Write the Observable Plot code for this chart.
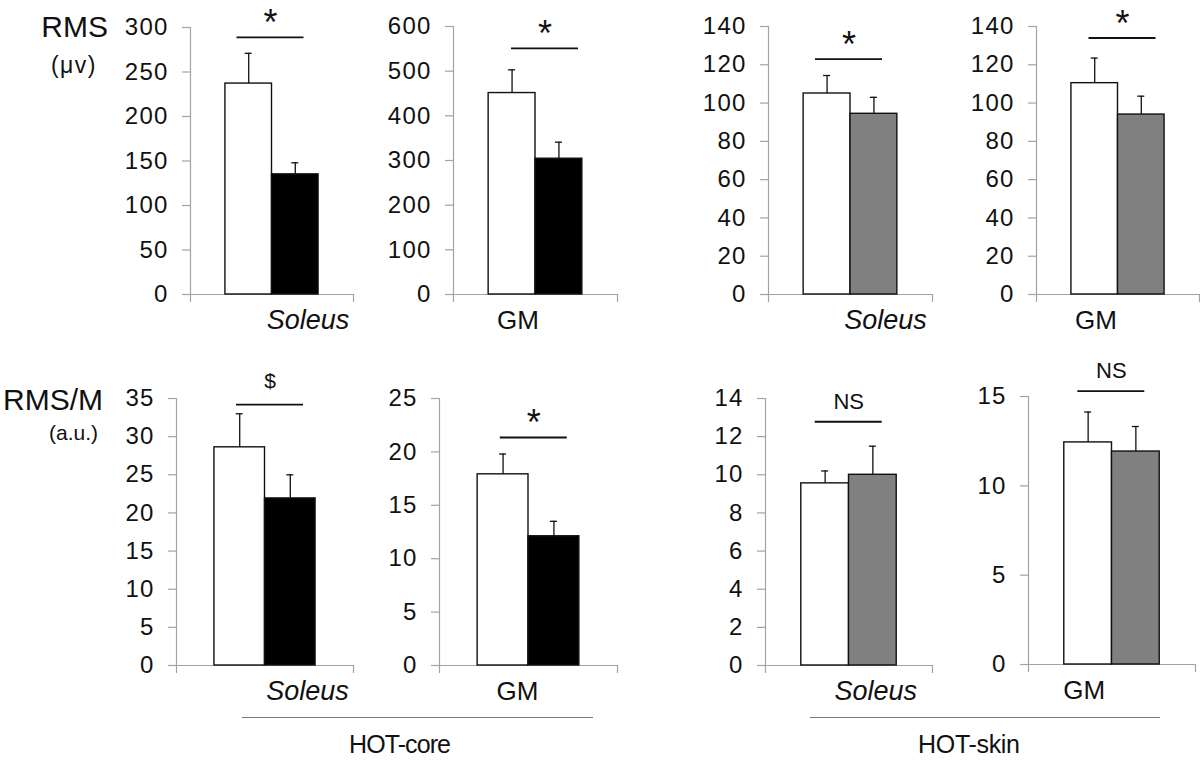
<!DOCTYPE html>
<html>
<head>
<meta charset="utf-8">
<script src="https://cdn.jsdelivr.net/npm/d3@7"></script>
<script src="https://cdn.jsdelivr.net/npm/@observablehq/plot@0.6"></script>
<style>
  html, body { margin: 0; padding: 0; background: #fff; overflow: hidden; }
  #root { position: relative; width: 1200px; height: 760px; background: #fff; }
  #root g[aria-label="y-axis tick label"] text { letter-spacing: 1.2px; }
</style>
</head>
<body>
<div id="root"></div>
<script>
// ---------------- DATA ----------------
const muscles   = ["Soleus", "GM", "Soleus", "GM"];
const protocols = ["HOT-core", "HOT-core", "HOT-skin", "HOT-skin"];
const series    = ["Control", "Hot"];

// RMS (µV)
const rmsControl     = [237, 451, 105, 110.4];
const rmsControlErr  = [34, 52, 9.4, 13.1];
const rmsHot         = [135, 304, 94.4, 94.0];
const rmsHotErr      = [13, 37, 8.6, 9.6];
const rmsSignif      = ["*", "*", "*", "*"];
const rmsSignifLevel = [289, 551, 123, 134];
const rmsTicks = [
  [0, 50, 100, 150, 200, 250, 300],
  [0, 100, 200, 300, 400, 500, 600],
  [0, 20, 40, 60, 80, 100, 120, 140],
  [0, 20, 40, 60, 80, 100, 120, 140]
];

// RMS/M (a.u.)
const rmsmControl     = [28.6, 17.9, 9.55, 12.43];
const rmsmControlErr  = [4.4, 1.9, 0.65, 1.7];
const rmsmHot         = [21.9, 12.1, 10.0, 11.92];
const rmsmHotErr      = [3.1, 1.4, 1.5, 1.4];
const rmsmSignif      = ["$", "*", "NS", "NS"];
const rmsmSignifLevel = [34.2, 21.35, 12.78, 15.3];
const rmsmTicks = [
  [0, 5, 10, 15, 20, 25, 30, 35],
  [0, 5, 10, 15, 20, 25],
  [0, 2, 4, 6, 8, 10, 12, 14],
  [0, 5, 10, 15]
];

const measureLabels = ["RMS", "RMS/M"];
const unitLabels    = ["(\u03bcv)", "(a.u.)"];
const protocolNames = ["HOT-core", "HOT-skin"];

// ---------------- STYLE / LAYOUT ----------------
const FONT = '"Liberation Sans", Arial, Helvetica, sans-serif';
const AXIS_GRAY = "#a3a3a3";
const INK = "#111";
const hotFill = {"HOT-core": "#000000", "HOT-skin": "#808080"};
const symbolStyle = {
  "*":  {fontSize: 36, dy: -2},
  "$":  {fontSize: 21, dy: -17},
  "NS": {fontSize: 22, dy: -13}
};

const layouts = {
  rms: [
    {ax: 190,  top: 27,  zero: 294, right: 353,  sigDx: -1.5, labelDx: 36},
    {ax: 453,  top: 26,  zero: 294, right: 617,  sigDx: 9.5,  labelDx: -17.5},
    {ax: 768,  top: 26,  zero: 294, right: 932,  sigDx: -1.5, labelDx: 35},
    {ax: 1036, top: 26,  zero: 294, right: 1199, sigDx: 4.5,  labelDx: -22}
  ],
  rmsm: [
    {ax: 176,  top: 398, zero: 665, right: 353,  sigDx: 5,    labelDx: 42.5},
    {ax: 439,  top: 398, zero: 665, right: 617,  sigDx: 5.3,  labelDx: -11},
    {ax: 765,  top: 398, zero: 665, right: 932,  sigDx: -0.3, labelDx: 26.7},
    {ax: 1028, top: 396, zero: 664, right: 1195, sigDx: -0.7, labelDx: -27.7}
  ]
};

const ML = 80, MR = 20, MT = 45, MB = 45, EXT = 8, LABEL_DY = 34;

const root = document.getElementById("root");

function panel(cfg, k, m) {
  const plotW = cfg.right - cfg.ax;
  const plotH = cfg.zero - cfg.top;
  const width = ML + plotW + MR;
  const height = MT + plotH + MB;
  const ticks = m.ticks[k];
  const ymax = ticks[ticks.length - 1];
  const ext = -EXT * ymax / plotH; // value just below zero for axis extension
  const bars = [
    {i: 0, series: series[0], value: m.control[k], err: m.controlErr[k], fill: "#ffffff"},
    {i: 1, series: series[1], value: m.hot[k], err: m.hotErr[k], fill: hotFill[protocols[k]]}
  ];
  const sym = m.signif[k];
  const ss = symbolStyle[sym];
  const step = plotW / 3.5;
  const capHalf = 3.5 / step;

  const svg = Plot.plot({
    width, height,
    marginLeft: ML, marginRight: MR, marginTop: MT, marginBottom: MB,
    x: {domain: [-0.75, 2.75], range: [ML, ML + plotW], axis: null},
    y: {domain: [0, ymax], range: [MT + plotH, MT], label: null},
    color: {type: "identity"},
    style: {
      position: "absolute",
      left: (cfg.ax - ML) + "px",
      top: (cfg.top - MT) + "px",
      background: "none",
      overflow: "visible",
      fontFamily: FONT,
      color: INK
    },
    marks: [
      // axis lines (Excel style)
      Plot.ruleX([-0.75], {y1: ext, y2: ymax, stroke: AXIS_GRAY, strokeWidth: 1.2}),
      Plot.ruleX([2.75], {y1: ext, y2: 0, stroke: AXIS_GRAY, strokeWidth: 1.2}),
      Plot.ruleY([0], {x1: -0.75, x2: 2.75, stroke: AXIS_GRAY, strokeWidth: 1.2}),
      Plot.axisY({
        ticks, tickSize: EXT, tickPadding: 14, label: null,
        tickFormat: d => String(d),
        stroke: AXIS_GRAY, fill: INK, fontSize: 24, strokeWidth: 1.2
      }),
      // bars
      Plot.rectY(bars, {
        x1: "i", x2: d => d.i + 1, y: "value",
        fill: "fill", stroke: INK, strokeWidth: 1.4
      }),
      // error bars
      Plot.ruleX(bars, {x: d => d.i + 0.5, y1: "value", y2: d => d.value + d.err, stroke: INK, strokeWidth: 1.3}),
      Plot.ruleY(bars, {
        y: d => d.value + d.err,
        x1: d => d.i + 0.5 - capHalf, x2: d => d.i + 0.5 + capHalf,
        stroke: INK, strokeWidth: 1.3
      }),
      // significance bracket
      Plot.ruleY([m.signifLevel[k]], {
        x1: 1 - 33.5 / step, x2: 1 + 33.5 / step, dx: cfg.sigDx,
        stroke: INK, strokeWidth: 1.8
      }),
      Plot.text([sym], {
        x: 1, y: m.signifLevel[k], text: d => d,
        dx: cfg.sigDx, dy: ss.dy, lineAnchor: "bottom",
        fontSize: ss.fontSize, fill: INK
      }),
      // muscle label
      Plot.text([muscles[k]], {
        x: 1, y: 0, text: d => d,
        dx: cfg.labelDx, dy: LABEL_DY, lineAnchor: "bottom",
        fontSize: muscles[k] === "Soleus" ? 27 : 26, fill: INK,
        fontStyle: muscles[k] === "Soleus" ? "italic" : "normal"
      })
    ]
  });
  root.appendChild(svg);
}

const measures = [
  {key: "rms", control: rmsControl, controlErr: rmsControlErr, hot: rmsHot, hotErr: rmsHotErr,
   signif: rmsSignif, signifLevel: rmsSignifLevel, ticks: rmsTicks},
  {key: "rmsm", control: rmsmControl, controlErr: rmsmControlErr, hot: rmsmHot, hotErr: rmsmHotErr,
   signif: rmsmSignif, signifLevel: rmsmSignifLevel, ticks: rmsmTicks}
];

measures.forEach(m => {
  layouts[m.key].forEach((cfg, k) => panel(cfg, k, m));
});

// ---------------- Row titles and protocol brackets ----------------
const overlay = d3.select(root).append("svg")
  .attr("width", 1200).attr("height", 760)
  .style("position", "absolute").style("left", "0px").style("top", "0px")
  .style("overflow", "visible").style("pointer-events", "none")
  .attr("font-family", FONT).attr("fill", INK);

const titlePos = [
  {x: 108, y: 37, ux: 97, uy: 73},
  {x: 103, y: 410, ux: 98, uy: 440}
];
measureLabels.forEach((t, i) => {
  overlay.append("text").attr("x", titlePos[i].x).attr("y", titlePos[i].y)
    .attr("text-anchor", "end").attr("font-size", 30).text(t);
  overlay.append("text").attr("x", titlePos[i].ux).attr("y", titlePos[i].uy)
    .attr("text-anchor", "end").attr("font-size", i === 0 ? 23 : 21)
    .attr("letter-spacing", i === 0 ? "1.5px" : null).text(unitLabels[i]);
});

const bracketPos = [
  {x1: 242, x2: 593, y: 717, cx: 400, ty: 753},
  {x1: 810, x2: 1160, y: 717, cx: 969, ty: 753}
];
protocolNames.forEach((name, i) => {
  const b = bracketPos[i];
  overlay.append("line").attr("x1", b.x1).attr("x2", b.x2)
    .attr("y1", b.y + 0.5).attr("y2", b.y + 0.5)
    .attr("stroke", "#7a7a7a").attr("stroke-width", 1.2);
  overlay.append("text").attr("x", b.cx - 51).attr("y", b.ty)
    .attr("font-size", 25)
    .attr("textLength", 102).attr("lengthAdjust", "spacing")
    .text(name);
});
</script>
</body>
</html>
